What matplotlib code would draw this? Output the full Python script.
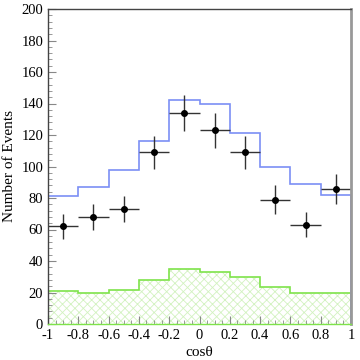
import numpy as np
import matplotlib
matplotlib.use("Agg")
import matplotlib.pyplot as plt
from matplotlib.ticker import MultipleLocator

edges = [-1.0, -0.8, -0.6, -0.4, -0.2, 0.0, 0.2, 0.4, 0.6, 0.8, 1.0]
mc_total = [81, 87, 98, 116, 142, 140, 121, 100, 89, 82]
background = [21, 19.5, 21.5, 28, 35, 33, 30, 23.5, 19.5, 19.5]
data_x = [-0.9, -0.7, -0.5, -0.3, -0.1, 0.1, 0.3, 0.5, 0.7, 0.9]
data_y = [62, 68, 73, 109, 134, 123, 109, 79, 63, 86]
data_err = [8, 8, 8.5, 10.5, 11.5, 11, 10.5, 9, 8, 9.5]
x_err = 0.1

plt.rcParams['font.family'] = ['Liberation Serif', 'DejaVu Serif']
plt.rcParams['hatch.linewidth'] = 0.6

fig = plt.figure(figsize=(3.6, 3.6), dpi=100)
ax = fig.add_axes([48/360, 36/360, 303/360, 315/360])

# background hatched histogram
ax.stairs(background, edges, fill=True, facecolor='none', edgecolor='#d2f2c0',
          hatch='xxxx', linewidth=0)
ax.stairs(background, edges, color='#7ee34a', linewidth=1.2, baseline=0)
# total MC histogram
ax.stairs(mc_total, edges, color='#7b8ff5', linewidth=1.2, baseline=0)
# data
ax.errorbar(data_x, data_y, yerr=data_err, xerr=x_err, fmt='o', color='black',
            ecolor='#333333', markersize=4, elinewidth=1.0, capsize=0)

ax.set_xlim(-1, 1)
ax.set_ylim(0, 200)
ax.xaxis.set_minor_locator(MultipleLocator(0.05))
ax.yaxis.set_major_locator(MultipleLocator(20))
ax.yaxis.set_minor_locator(MultipleLocator(4))
ax.set_xticks(edges)
ax.set_xticklabels(['-1', '-0.8', '-0.6', '-0.4', '-0.2', '0', '0.2', '0.4', '0.6', '0.8', '1'])
ax.tick_params(axis='both', which='both', direction='in', colors='#888888',
               labelcolor='black', labelsize=10.5)
ax.tick_params(axis='both', which='major', length=6, width=0.8)
ax.tick_params(axis='both', which='minor', length=3, width=0.6)
ax.tick_params(top=False, right=False)

for s in ['top', 'left']:
    ax.spines[s].set_color('#444444')
    ax.spines[s].set_linewidth(1.0)
ax.spines['right'].set_color('#999999')
ax.spines['right'].set_linewidth(2.0)
ax.spines['bottom'].set_color('#7ee34a')
ax.spines['bottom'].set_linewidth(1.0)

ax.set_xlabel('cosθ', fontsize=11, labelpad=3)
ax.set_ylabel('Number of Events', fontsize=11, labelpad=4)

fig.savefig('out.png', dpi=100)
